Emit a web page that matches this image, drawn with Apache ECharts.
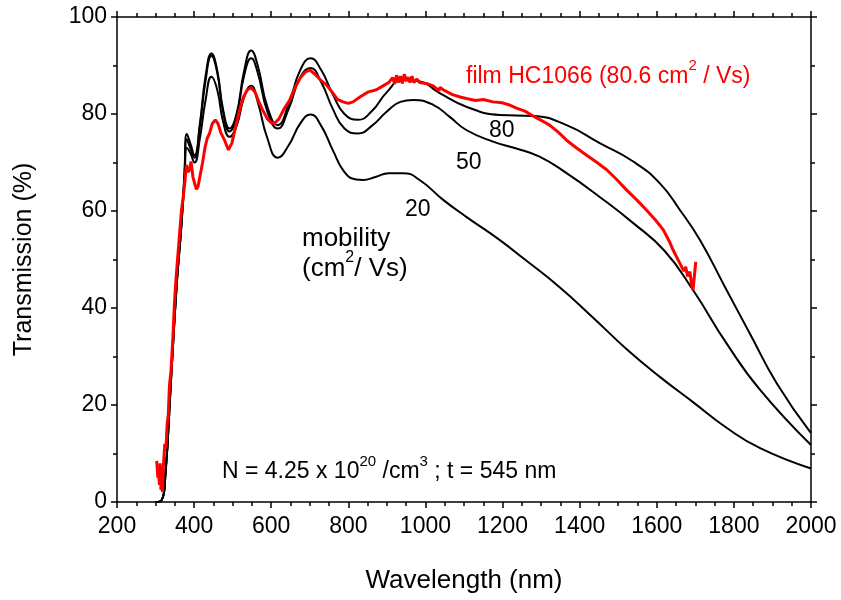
<!DOCTYPE html>
<html>
<head>
<meta charset="utf-8">
<script src="https://cdn.jsdelivr.net/npm/echarts@6/dist/echarts.min.js"></script>
<style>
  html, body { margin: 0; padding: 0; background: #fff; }
  #chart { width: 841px; height: 600px; }
</style>
</head>
<body>
<div id="chart"></div>
<script>
// Modelled transmission for three carrier mobilities (cm^2/Vs), [wavelength nm, T %]
const mobility80 = [
  [300,0],[315,0.3],[325,5],[340,25],[355,45],[366,56],[375,68],[381,75.9],[390,74],[401,71.5],
  [415,78],[430,88],[445,92.5],[460,89],[475,81],[492,77],[510,80],[530,89],[548,93.1],[565,90],
  [590,81.5],[617,77.7],[645,82],[675,89],[702,91.5],[730,89],[760,84],[790,80],[825,78.8],[860,80.5],
  [900,84.5],[940,87],[985,86.7],[1037,84.3],[1106,81.5],[1193,79.8],[1279,79.6],[1366,77.7],[1452,74],
  [1539,70.2],[1608,65.7],[1660,60.2],[1712,54],[1781,43.7],[1841,34.8],[1911,24.5],[2000,14.2]
];
const mobility50 = [
  [300,0],[315,0.3],[325,5],[340,25],[355,45],[366,56],[375,67],[381,74.8],[390,73],[401,71],
  [415,77.5],[430,87],[445,92],[460,88.5],[475,80.5],[492,76.4],[510,79.5],[530,88],[548,91.5],[565,88.5],
  [590,80.5],[617,77],[645,81],[675,87.5],[702,89.5],[730,86.5],[760,81],[790,77],[825,76],[860,77.5],
  [900,80.5],[935,82.5],[968,82.9],[1020,81.9],[1063,79.4],[1106,76.7],[1175,74.3],[1236,72.9],[1296,71.2],
  [1366,67.8],[1452,62.9],[1539,57.5],[1620,51.8],[1694,43.7],[1781,32.7],[1868,23.1],[2000,11.75]
];
const mobility20 = [
  [300,0],[315,0.3],[325,5],[340,25],[355,45],[366,56],[375,66],[381,73],[390,72],[401,70],
  [415,75],[430,83],[445,87.7],[460,85],[475,78.5],[492,75.3],[510,77.5],[530,83.5],[548,85.8],[565,82.5],
  [590,75],[617,71],[645,73.5],[675,78],[702,79.9],[730,77.5],[760,72.5],[790,68],[820,66.5],[838,66.4],
  [870,67],[905,67.8],[942,67.8],[985,66.4],[1046,62.3],[1106,58.8],[1193,54],[1253,50.3],[1348,44.3],
  [1435,38],[1522,31.5],[1608,25.8],[1694,20.6],[1781,15.3],[1868,11.1],[2000,6.9]
];
// Measured transmission of film HC1066
const filmHC1066 = [
  [303,8.5],[306,5],[308,7.5],[310,3.5],[312,8],[314,2.5],[316,6],[318,2],[320,7],[322,9.5],
  [324,12],[327,11],[330,16],[333,18],[336,24],[340,27],[345,34],[349,41],[353,46],[358,51],
  [362,55],[367,60],[372,63],[376,66],[380,69.5],[384,68],[388,68.5],[392,70.2],[397,67],[402,65.5],
  [406,64.5],[410,65],[416,67.5],[422,70],[428,73],[434,75],[440,76],[447,78],[455,78.8],[462,78],
  [470,76],[479,74.6],[489,72.6],[498,74],[508,77.5],[518,80.8],[528,83.5],[538,85],[548,85.4],[558,84.5],
  [568,82.5],[578,80.8],[590,79],[600,78.2],[609,78.1],[620,79],[633,81],[648,82.9],[662,85.5],[676,87.5],
  [688,88.6],[700,89.1],[712,88.3],[728,87],[743,86],[758,84.5],[772,83],[786,82.5],[800,82.2],[812,82.5],
  [830,83.5],[850,84.5],[873,85],[890,85.8],[905,86.5],[915,87.5],[920,86.2],[925,88],[930,86.5],[935,87.8],
  [940,86.3],[945,88.2],[950,86.8],[955,87.6],[960,86.5],[965,87.8],[970,86.5],[978,87.2],[985,86.5],[1002,86.3],
  [1020,85.8],[1035,84.8],[1038,85.5],[1046,85],[1070,84],[1090,83.5],[1106,83.2],[1130,82.8],[1150,83],[1175,82.5],
  [1200,82.3],[1220,81.8],[1236,81.2],[1258,80.6],[1279,79.6],[1300,78.7],[1322,77.7],[1345,76.2],[1366,74.6],[1392,73],
  [1418,71.5],[1445,70],[1470,68.5],[1496,66.5],[1522,64.3],[1548,62.3],[1573,60.2],[1596,58.2],[1617,56.1],[1634,53.5],
  [1642,52],[1651,50.6],[1660,49.2],[1670,47.6],[1675,48.5],[1680,46.5],[1686,47.5],[1690,45],[1694,43.7],[1698,47],
  [1701,49.5]
];

const xTicks = [200, 400, 600, 800, 1000, 1200, 1400, 1600, 1800, 2000];
const yTicks = [0, 20, 40, 60, 80, 100];

const FONT = '"Liberation Sans", Arial, Helvetica, sans-serif';
const axisLine = { show: true, onZero: false, lineStyle: { color: '#000', width: 1.5 } };
const axisTick = { show: true, inside: false, length: 6, lineStyle: { color: '#000', width: 1.5 } };
const minorTick = (n) => ({ show: true, splitNumber: n, length: 4, lineStyle: { color: '#000', width: 1.5 } });
const tickLabel = { color: '#000', fontSize: 23, fontFamily: FONT, formatter: (v) => String(v) };

const xBase = { type: 'value', min: xTicks[0], max: xTicks[xTicks.length - 1], interval: 200,
  axisLine, axisTick, minorTick: minorTick(4), splitLine: { show: false } };
const yBase = { type: 'value', min: yTicks[0], max: yTicks[yTicks.length - 1], interval: 20,
  axisLine, axisTick, minorTick: minorTick(2), splitLine: { show: false } };

const curve = (name, data) => ({
  name, type: 'line', data, showSymbol: false, smooth: 0.5,
  lineStyle: { color: '#000', width: 2 }, z: 2, silent: true
});

const chart = echarts.init(document.getElementById('chart'), null, { renderer: 'canvas' });
chart.setOption({
  animation: false,
  backgroundColor: '#fff',
  grid: { left: 117, right: 30, top: 17, bottom: 98 },
  xAxis: [
    Object.assign({}, xBase, { position: 'bottom',
      axisLabel: Object.assign({ margin: 13 }, tickLabel),
      name: 'Wavelength (nm)', nameLocation: 'middle', nameGap: 66,
      nameTextStyle: { color: '#000', fontSize: 26, fontFamily: FONT } }),
    Object.assign({}, xBase, { position: 'top', axisLabel: { show: false } })
  ],
  yAxis: [
    Object.assign({}, yBase, { position: 'left',
      axisLabel: Object.assign({ margin: 10 }, tickLabel),
      name: 'Transmission (%)', nameLocation: 'middle', nameGap: 80,
      nameTextStyle: { color: '#000', fontSize: 25, fontFamily: FONT } }),
    Object.assign({}, yBase, { position: 'right', axisLabel: { show: false } })
  ],
  series: [
    curve('μ = 80', mobility80),
    curve('μ = 50', mobility50),
    curve('μ = 20', mobility20),
    { name: 'film HC1066', type: 'line', data: filmHC1066, showSymbol: false,
      lineStyle: { color: '#ff0000', width: 3 }, z: 3, silent: true }
  ],
  graphic: [
    { type: 'text', left: 466, top: 58, style: {
      text: '{n|film HC1066 (80.6 cm}{s|2}{n| / Vs)}', fill: '#ff0000',
      rich: { n: { fontSize: 23, fontFamily: FONT, fill: '#ff0000', lineHeight: 30, verticalAlign: 'bottom' },
              s: { fontSize: 15, fontFamily: FONT, fill: '#ff0000', lineHeight: 30, verticalAlign: 'top' } } } },
    { type: 'text', left: 489, top: 119, style: { text: '80', fill: '#000', font: '23px ' + FONT } },
    { type: 'text', left: 456, top: 151, style: { text: '50', fill: '#000', font: '23px ' + FONT } },
    { type: 'text', left: 405, top: 198, style: { text: '20', fill: '#000', font: '23px ' + FONT } },
    { type: 'text', left: 302, top: 226, style: { text: 'mobility', fill: '#000', font: '26px ' + FONT } },
    { type: 'text', left: 302, top: 250, style: {
      text: '{n|(cm}{s|2}{n|/ Vs)}',
      rich: { n: { fontSize: 26, fontFamily: FONT, fill: '#000', lineHeight: 32, verticalAlign: 'bottom' },
              s: { fontSize: 16, fontFamily: FONT, fill: '#000', lineHeight: 32, verticalAlign: 'top' } } } },
    { type: 'text', left: 222, top: 454, style: {
      text: '{n|N = 4.25 x 10}{s|20}{n| /cm}{s|3}{n| ; t = 545 nm}',
      rich: { n: { fontSize: 23, fontFamily: FONT, fill: '#000', lineHeight: 29, verticalAlign: 'bottom' },
              s: { fontSize: 15, fontFamily: FONT, fill: '#000', lineHeight: 29, verticalAlign: 'top' } } } }
  ]
});
</script>
</body>
</html>
